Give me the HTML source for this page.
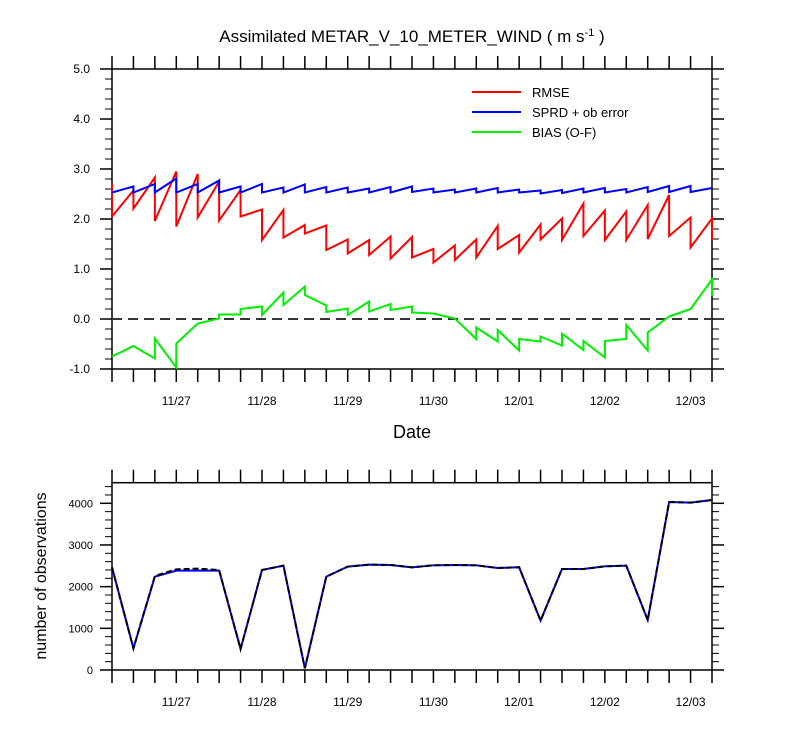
<!DOCTYPE html>
<html><head><meta charset="utf-8"><style>
body{margin:0;background:#fff}
svg{display:block;font-family:"Liberation Sans",sans-serif}
</style></head><body>
<svg id="c" width="800" height="750" viewBox="0 0 800 750"></svg>
<script>
const dateLabels=["11/27","11/28","11/29","11/30","12/01","12/02","12/03"];
const rmsePrior=[2.71,2.57,2.83,2.95,2.90,2.75,2.58,2.19,2.18,1.88,1.87,1.59,1.58,1.65,1.64,1.40,1.47,1.59,1.86,1.68,1.89,2.01,2.31,2.17,2.15,2.28,2.48,2.03,2.01];
const rmsePost=[2.05,2.21,1.96,1.85,2.03,1.97,2.05,1.58,1.63,1.71,1.38,1.31,1.28,1.21,1.23,1.13,1.18,1.23,1.40,1.33,1.59,1.58,1.66,1.58,1.58,1.60,1.66,1.43,1.58];
const sprdPrior=[2.53,2.65,2.70,2.81,2.70,2.77,2.65,2.70,2.63,2.69,2.64,2.63,2.61,2.64,2.65,2.61,2.59,2.61,2.62,2.59,2.57,2.58,2.61,2.62,2.60,2.64,2.66,2.66,2.62];
const sprdPost=[2.53,2.53,2.53,2.53,2.53,2.53,2.53,2.53,2.53,2.53,2.53,2.53,2.53,2.53,2.54,2.53,2.53,2.53,2.53,2.53,2.51,2.52,2.53,2.53,2.53,2.54,2.54,2.54,2.62];
const biasPrior=[-0.75,-0.54,-0.79,-0.97,-0.09,0.01,0.09,0.25,0.53,0.65,0.27,0.21,0.35,0.30,0.25,0.11,0.01,-0.40,-0.45,-0.63,-0.45,-0.53,-0.62,-0.77,-0.40,-0.63,0.05,0.20,0.79];
const biasPost=[-0.75,-0.54,-0.39,-0.49,-0.09,0.09,0.20,0.08,0.28,0.48,0.14,0.08,0.15,0.18,0.13,0.11,0.01,-0.17,-0.22,-0.40,-0.35,-0.29,-0.44,-0.44,-0.12,-0.27,0.05,0.20,0.46];
const obsUsed=[2464,520,2240,2384,2384,2384,504,2400,2504,40,2240,2480,2528,2520,2464,2512,2520,2512,2448,2464,1184,2424,2424,2488,2504,1200,4032,4016,4080];
const obsPossible=[2464,520,2256,2416,2432,2400,504,2400,2504,40,2240,2480,2528,2520,2464,2512,2520,2512,2448,2464,1184,2424,2424,2488,2504,1200,4032,4016,4080];
const topTicks=["-1.0","0.0","1.0","2.0","3.0","4.0","5.0"];
const botTicks=["0","1000","2000","3000","4000"];

const svg=document.getElementById('c');const NS="http://www.w3.org/2000/svg";
function el(t,a,p){const e=document.createElementNS(NS,t);for(const k in a)e.setAttribute(k,a[k]);(p||svg).appendChild(e);return e;}
const X0=112,X1=712,N=rmsePrior.length;
const xs=i=>X0+(X1-X0)*i/(N-1);
const yT=v=>319-50*v;
const yB=v=>670-v*(670-503.3)/4000;

let t=el('text',{x:412,y:42,'text-anchor':'middle','font-size':17});

t.innerHTML='Assimilated METAR_V_10_METER_WIND ( m s<tspan dy="-6" font-size="11">-1</tspan><tspan dy="6"> )</tspan>';

function frame(top,bot,name){
  const r=el('rect',{x:X0,y:top,width:X1-X0,height:bot-top,fill:'none',stroke:'#000','stroke-width':1.5});
  
  for(let i=0;i<N;i++){const x=xs(i);
    el('line',{x1:x,x2:x,y1:bot,y2:bot+13,stroke:'#000','stroke-width':1.5});
    el('line',{x1:x,x2:x,y1:top,y2:top-13,stroke:'#000','stroke-width':1.5});}
  for(let k=0;k<dateLabels.length;k++){
    const lab=el('text',{x:xs(3+4*k),y:bot+36,'text-anchor':'middle','font-size':12});
    
    lab.textContent=dateLabels[k];}
}
frame(69,369,'top-plot');frame(482.7,670,'bottom-plot');

for(let v=-1;v<=5.001;v+=0.2){const y=yT(v);const maj=Math.abs(v-Math.round(v))<1e-6;const L=maj?12:7;
  el('line',{x1:X0-L,x2:X0,y1:y,y2:y,stroke:'#000','stroke-width':maj?1.5:1});
  el('line',{x1:X1,x2:X1+L,y1:y,y2:y,stroke:'#000','stroke-width':maj?1.5:1});}
topTicks.forEach((s,k)=>{const lab=el('text',{x:90,y:yT(-1+k)+4,'text-anchor':'end','font-size':12});
  lab.textContent=s;});
let d=el('text',{x:412,y:438,'text-anchor':'middle','font-size':18});
d.textContent='Date';

let z=el('line',{x1:X0,x2:X1,y1:yT(0),y2:yT(0),stroke:'#333','stroke-width':2,'stroke-dasharray':'10,6'});


function saw(pr,po,color,name){
  let p='';for(let i=0;i<N;i++){p+=(i?'L':'M')+xs(i)+','+yT(pr[i])+'L'+xs(i)+','+yT(po[i]);}
  const e=el('path',{d:p,fill:'none',stroke:color,'stroke-width':2,'stroke-linejoin':'miter'});
  }
saw(rmsePrior,rmsePost,'#ff0000','rmse-line');
saw(sprdPrior,sprdPost,'#0000ff','sprd-line');
saw(biasPrior,biasPost,'#00ee00','bias-line');

[['RMSE','#ff0000',92],['SPRD + ob error','#0000ff',112],['BIAS (O-F)','#00ee00',132]].forEach(([s,c,y])=>{
  const g=el('g',{});
  el('line',{x1:472,x2:521,y1:y,y2:y,stroke:c,'stroke-width':2},g);
  const tx=el('text',{x:532,y:y+5,'font-size':13},g);tx.textContent=s;});

for(let v=0;v<=4500;v+=200){const y=yB(v);const maj=v%1000===0;const L=maj?12:7;
  el('line',{x1:X0-L,x2:X0,y1:y,y2:y,stroke:'#000','stroke-width':maj?1.5:1});
  el('line',{x1:X1,x2:X1+L,y1:y,y2:y,stroke:'#000','stroke-width':maj?1.5:1});}
botTicks.forEach((s,k)=>{const lab=el('text',{x:93,y:yB(k*1000)+4,'text-anchor':'end','font-size':11});
  lab.textContent=s;});
let yl=el('text',{x:0,y:0,'text-anchor':'middle','font-size':16,transform:'translate(46,576) rotate(-90)'});
yl.textContent='number of observations';

function line(v,color,dash,name){let p='';v.forEach((a,i)=>p+=(i?'L':'M')+xs(i)+','+yB(a));
  const e=el('path',{d:p,fill:'none',stroke:color,'stroke-width':2,'stroke-dasharray':dash});
  }
line(obsUsed,'#0000ff','none','obs-used-line');
line(obsPossible,'#000','6,3','obs-possible-line');
</script>
</body></html>
